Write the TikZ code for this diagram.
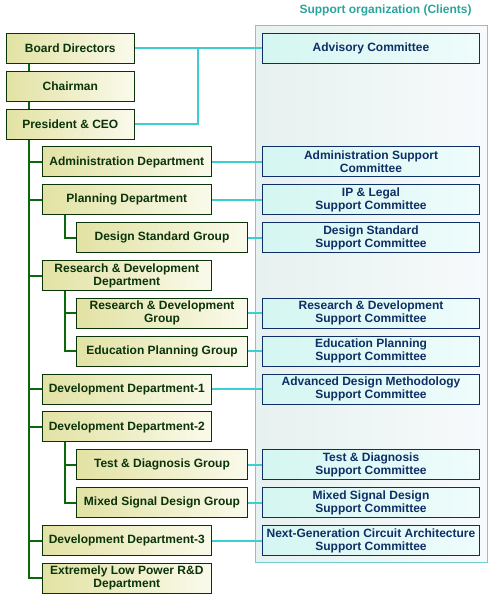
\documentclass[tikz,border=0pt]{standalone}
\usepackage{fontspec}
\setmainfont{Liberation Sans}
\usepackage{xcolor}
\definecolor{dg}{HTML}{0A330A}
\definecolor{tr}{HTML}{0B680B}
\definecolor{nv}{HTML}{0E2F66}
\definecolor{cy}{HTML}{3ECDD0}
\definecolor{tl}{HTML}{2BA49C}
\definecolor{pb}{HTML}{72CFD0}
\definecolor{khl}{HTML}{E2E2A4}
\definecolor{khr}{HTML}{FAFAEC}
\definecolor{cyl}{HTML}{D4F6F1}
\definecolor{cyr}{HTML}{EFFCFC}
\definecolor{pnl}{HTML}{E7F1EF}
\definecolor{pnr}{HTML}{F7FAFC}
\usepackage{tikz}
\usetikzlibrary{calc}
\pgfdeclarelayer{bg}
\pgfdeclarelayer{lines}
\pgfsetlayers{bg,lines,main}
\tikzstyle{unitbox} = [draw=dg, line width=1pt, left color=khl, right color=khr, text=dg, minimum height=30pt, align=center, inner sep=0pt, font=\bfseries\fontsize{12}{13}\selectfont]
\tikzstyle{topbox} = [unitbox, minimum width=128pt]
\tikzstyle{deptbox} = [unitbox, minimum width=169.5pt]
\tikzstyle{grpbox} = [unitbox, minimum width=171.5pt]
\tikzstyle{commbox} = [draw=nv, line width=1pt, left color=cyl, right color=cyr, text=nv, minimum width=217.5pt, minimum height=30pt, align=center, inner sep=0pt, font=\bfseries\fontsize{12}{13}\selectfont]
\tikzstyle{trunkline} = [draw=tr, line width=2pt]
\tikzstyle{linkline} = [draw=cy, line width=2pt]

\begin{document}
\begin{tikzpicture}[x=1pt, y=-1pt]
    \useasboundingbox (0,0) rectangle (494,600);

    % support panel
    \begin{pgfonlayer}{bg}
    \draw[draw=pb, line width=1pt, left color=pnl, right color=pnr]
    (255.3,25) rectangle (487.7,562.7);
    \end{pgfonlayer}
    \node[text=tl, font=\bfseries\fontsize{12}{13}\selectfont] (title) at (385.5,10)
    {Support organization (Clients)};

    % top of the company
    \node[topbox] (board) at (70.3,48.3) {Board Directors};
    \node[topbox] (chair) at (70.3,86.2) {Chairman};
    \node[topbox] (ceo) at (70.3,124) {President \& CEO};

    % departments
    \node[deptbox] (admin) at (126.8,161.9) {Administration Department};
    \node[deptbox] (plan) at (126.8,199.7) {Planning Department};
    \node[deptbox] (rdd) at (126.8,275.5) {Research \& Development\\Department};
    \node[deptbox] (dev1) at (126.8,389) {Development Department-1};
    \node[deptbox] (dev2) at (126.8,426.9) {Development Department-2};
    \node[deptbox] (dev3) at (126.8,540.5) {Development Department-3};
    \node[deptbox] (elp) at (126.8,578.3) {Extremely Low Power R\&D\\Department};

    % groups
    \node[grpbox] (dsg) at (162,237.6) {Design Standard Group};
    \node[grpbox] (rdg) at (162,313.3) {Research \& Development\\Group};
    \node[grpbox] (epg) at (162,351.2) {Education Planning Group};
    \node[grpbox] (tdg) at (162,464.8) {Test \& Diagnosis Group};
    \node[grpbox] (msg) at (162,502.6) {Mixed Signal Design Group};

    % committees
    \node[commbox] (adv) at (371,48.3) {Advisory Committee};
    \node[commbox] (asc) at (371,161.9) {Administration Support\\Committee};
    \node[commbox] (ipl) at (371,199.7) {IP \& Legal\\Support Committee};
    \node[commbox] (dsc) at (371,237.6) {Design Standard\\Support Committee};
    \node[commbox] (rdc) at (371,313.3) {Research \& Development\\Support Committee};
    \node[commbox] (epc) at (371,351.2) {Education Planning\\Support Committee};
    \node[commbox] (admc) at (371,389) {Advanced Design Methodology\\Support Committee};
    \node[commbox] (tdc) at (371,464.8) {Test \& Diagnosis\\Support Committee};
    \node[commbox] (msc) at (371,502.6) {Mixed Signal Design\\Support Committee};
    \node[commbox] (ngc) at (371,540.5) {Next-Generation Circuit Architecture\\Support Committee};

    \begin{pgfonlayer}{lines}
    % main trunk
    \coordinate (stem) at ($(board.south west)+(23,0)$);
    \draw[trunkline] (stem) |- (elp.west);
    \draw[trunkline] (stem) |- (admin.west);
    \draw[trunkline] (stem) |- (plan.west);
    \draw[trunkline] (stem) |- (rdd.west);
    \draw[trunkline] (stem) |- (dev1.west);
    \draw[trunkline] (stem) |- (dev2.west);
    \draw[trunkline] (stem) |- (dev3.west);

    % sub trunks
    \coordinate (pstem) at ($(plan.south west)+(23,0)$);
    \draw[trunkline] (pstem) |- (dsg.west);
    \coordinate (rstem) at ($(rdd.south west)+(23,0)$);
    \draw[trunkline] (rstem) |- (rdg.west);
    \draw[trunkline] (rstem) |- (epg.west);
    \coordinate (dstem) at ($(dev2.south west)+(23,0)$);
    \draw[trunkline] (dstem) |- (tdg.west);
    \draw[trunkline] (dstem) |- (msg.west);

    % links to the committees
    \coordinate (join) at ($(board.east)!0.5!(adv.west)$);
    \draw[linkline] (board.east) -- (adv.west);
    \draw[linkline] (ceo.east) -| (join);
    \draw[linkline] (admin.east) -- (asc.west);
    \draw[linkline] (plan.east) -- (ipl.west);
    \draw[linkline] (dsg.east) -- (dsc.west);
    \draw[linkline] (rdg.east) -- (rdc.west);
    \draw[linkline] (epg.east) -- (epc.west);
    \draw[linkline] (dev1.east) -- (admc.west);
    \draw[linkline] (tdg.east) -- (tdc.west);
    \draw[linkline] (msg.east) -- (msc.west);
    \draw[linkline] (dev3.east) -- (ngc.west);
    \end{pgfonlayer}
\end{tikzpicture}
\end{document}
